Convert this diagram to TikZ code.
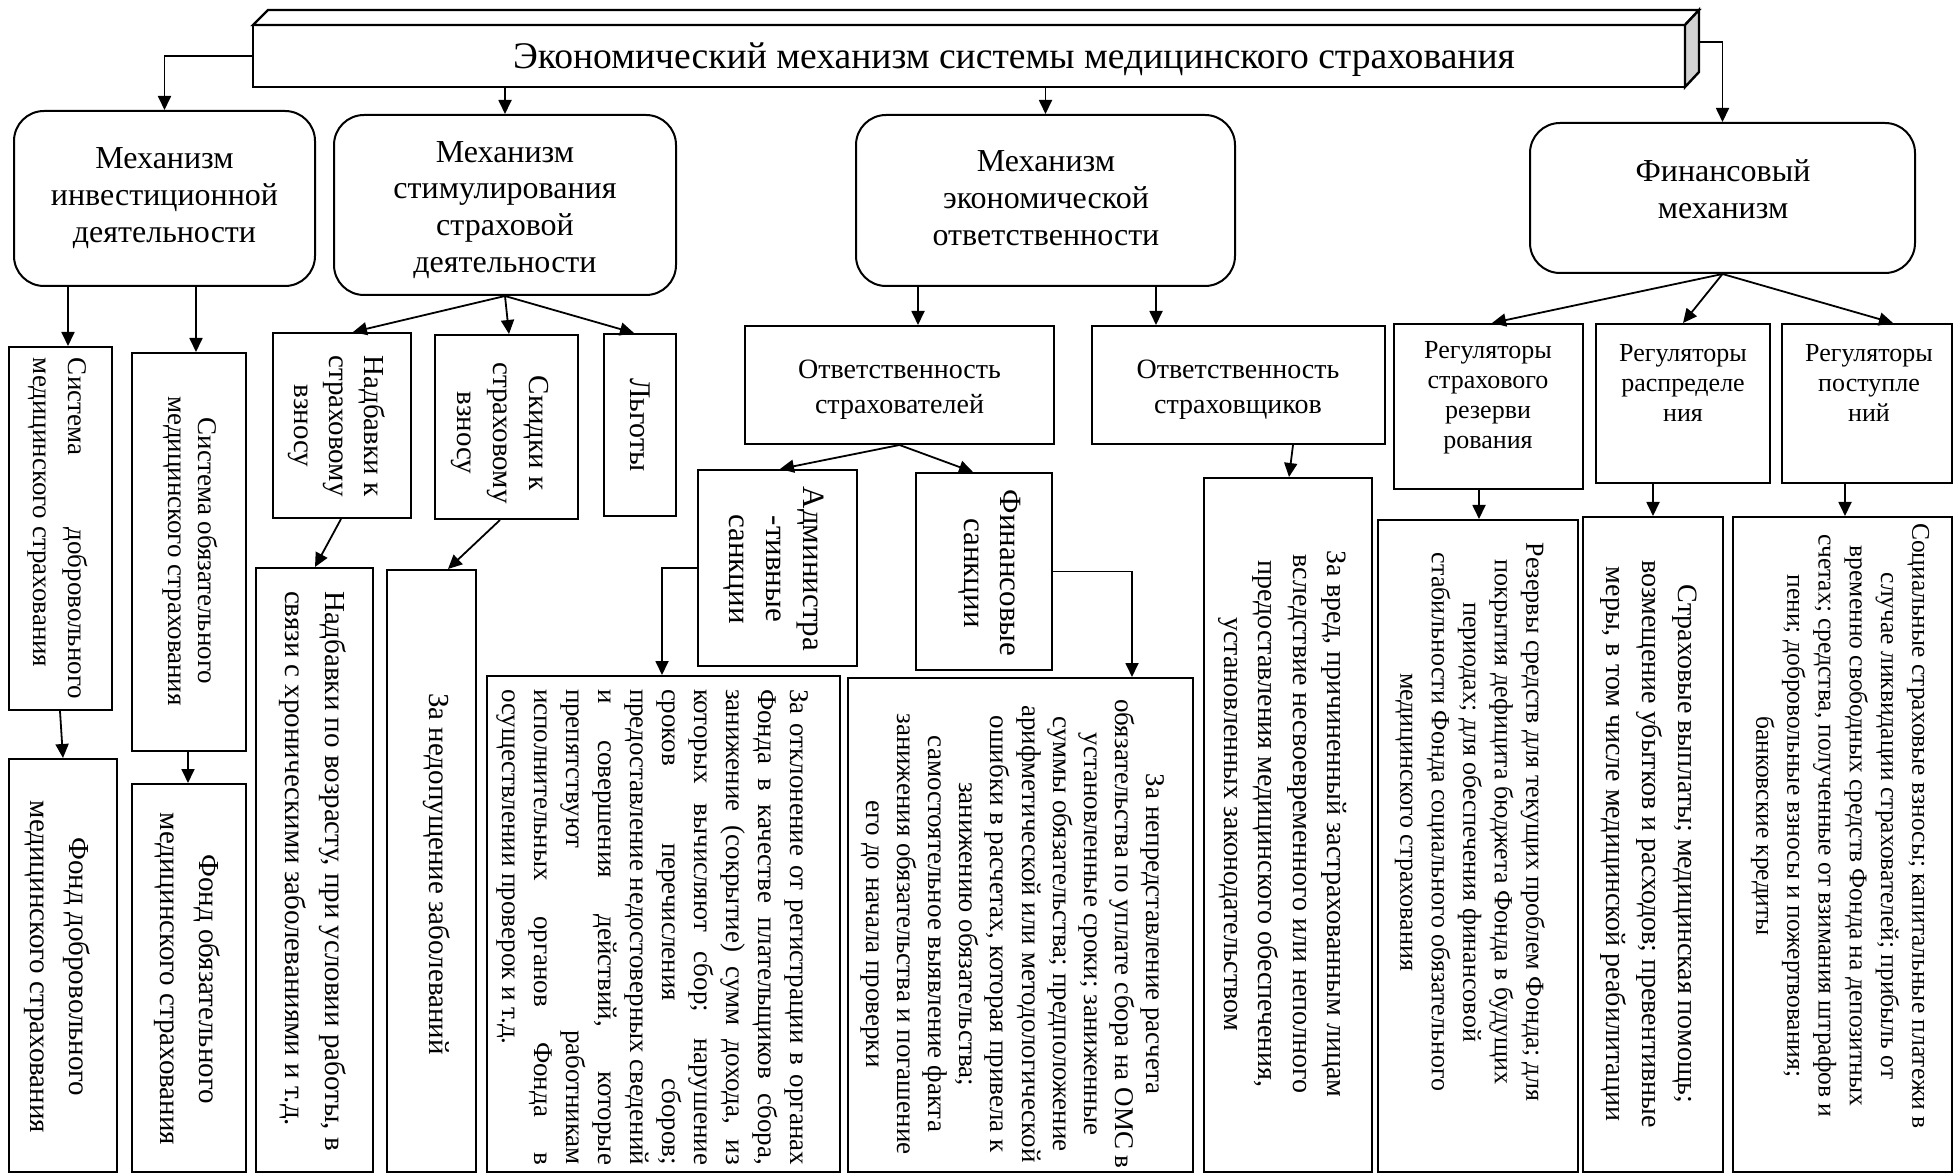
\documentclass[tikz,border=0pt]{standalone}
\usepackage{fontspec}
\setmainfont{Liberation Serif}
\usetikzlibrary{arrows.meta,fit}
\newcommand\fz[2]{\fontsize{#1pt}{#2pt}\selectfont}
\newcommand\jl[1]{\makebox[238pt][s]{#1}}
\begin{document}
\begin{tikzpicture}[x=0.5pt,y=-0.5pt,
  box/.style={draw, line width=1pt, inner sep=0pt},
  rbox/.style={draw, line width=1pt, inner sep=0pt, rounded corners=15pt},
  con/.style={line width=0.9pt, -{Triangle[length=7pt,width=6.5pt]}},
  rt/.style={rotate=-90, align=center, inner sep=0pt},
  ht/.style={align=center, inner sep=0pt}]
\useasboundingbox (0,0) rectangle (1955,1176);
\clip (0,0) rectangle (1955,1176);
% top 3D box
\draw[line width=1.2pt] (253,25) -- (268,10) -- (1699,10) -- (1685,25) -- cycle;
\draw[line width=1.2pt, fill=gray!35] (1685,25) -- (1699,10) -- (1699,72) -- (1685,87) -- cycle;
\node[box, line width=1.2pt, fit={(253,25) (1685,87)}] (top) {};
\node[ht, font=\fz{18.8}{22}] at (1014,60) {Экономический механизм системы медицинского страхования};
\coordinate (side) at (1699,42);
% level 1
\node[rbox, fit={(14,111) (315,286)}] (inv) {};
\node[rbox, fit={(334,115) (676,295)}] (stim) {};
\node[rbox, fit={(856,115) (1235,286)}] (econ) {};
\node[rbox, fit={(1530,123) (1915,273)}] (fin) {};
\node[ht, font=\fz{16}{18.4}] at (164.5,198) {Механизм\\инвестиционной\\деятельности};
\node[ht, font=\fz{16}{18.4}] at (505,210) {Механизм\\стимулирования\\страховой\\деятельности};
\node[ht, font=\fz{16}{18.4}] at (1046,198) {Механизм\\экономической\\ответственности};
\node[ht, font=\fz{16}{18.4}] at (1723,189.5) {Финансовый\\механизм};
% boxes
\node[box, fit={(9,347) (112,710)}] (sd) {};
\node[box, fit={(9,759) (117,1172)}] (fd) {};
\node[box, fit={(132,353) (246,751)}] (so) {};
\node[box, fit={(132,784) (246,1172)}] (fo) {};
\node[box, fit={(273,333) (411,518)}] (nk) {};
\node[box, fit={(256,568) (373,1172)}] (nv) {};
\node[box, fit={(435,335) (578,519)}] (sk) {};
\node[box, fit={(387,570) (476,1172)}] (zn) {};
\node[box, fit={(604,334) (676,516)}] (lg) {};
\node[box, fit={(745,326) (1054,444)}] (os) {};
\node[box, fit={(1092,326) (1385,444)}] (ow) {};
\node[box, fit={(698,470) (857,666)}] (adm) {};
\node[box, fit={(916,473) (1052,670)}] (fs) {};
\node[box, fit={(487,676) (840,1172)}] (zo) {};
\node[box, fit={(848,678) (1193,1172)}] (zp) {};
\node[box, fit={(1204,478) (1372,1172)}] (zv) {};
\node[box, fit={(1394,324) (1583,489)}] (r1) {};
\node[box, fit={(1596,324) (1770,483)}] (r2) {};
\node[box, fit={(1782,324) (1952,483)}] (r3) {};
\node[box, fit={(1378,520) (1578,1172)}] (rz) {};
\node[box, fit={(1583,517) (1723,1172)}] (sv) {};
\node[box, fit={(1733,517) (1952,1172)}] (sc) {};
% horizontal texts
\node[ht, font=\fz{14}{17.5}] at (899.5,389.5) {Ответственность\\страхователей};
\node[ht, font=\fz{14}{17.5}] at (1238,390) {Ответственность\\страховщиков};
\node[ht, font=\fz{13}{15}] at (1488,397.5) {Регуляторы\\страхового\\резерви\\рования};
\node[ht, font=\fz{13}{15}] at (1683,383) {Регуляторы\\распределе\\ния};
\node[ht, font=\fz{13}{15}] at (1869,383) {Регуляторы\\поступле\\ний};
% rotated texts
\node[rt, align=left, font=\fz{13.5}{17.5}] at (57.5,528.5) {\makebox[170.5pt][s]{Система добровольного}\\медицинского страхования};
\node[rt, font=\fz{14.5}{19.5}] at (57.5,967) {Фонд добровольного\\медицинского страхования};
\node[rt, font=\fz{13.5}{15}] at (190,551) {Система обязательного\\медицинского страхования};
\node[rt, font=\fz{14.5}{19.5}] at (187.5,979) {Фонд обязательного\\медицинского страхования};
\node[rt, font=\fz{14.5}{17.5}] at (337,426) {Надбавки к\\страховому\\взносу};
\node[rt, font=\fz{14.5}{18}] at (500,433) {Скидки к\\страховому\\взносу};
\node[rt, font=\fz{15}{18}] at (640,425) {Льготы};
\node[rt, align=left, font=\fz{14.5}{20}] at (313,871) {Надбавки по возрасту, при условии работы, в\\связи с хроническими заболеваниями и т.д.};
\node[rt, font=\fz{14.5}{18}] at (437,874) {За недопущение заболеваний};
\node[rt, font=\fz{15.5}{18.5}] at (774,569) {Администра\\-тивные\\санкции};
\node[rt, font=\fz{15.5}{18}] at (990,573) {Финансовые\\санкции};
\node[rt, align=left, font=\fz{13.5}{16}] at (653,927) {\jl{За отклонение от регистрации в органах}\\\jl{Фонда в качестве плательщиков сбора,}\\\jl{занижение (сокрытие) сумм дохода, из}\\\jl{которых вычисляют сбор; нарушение}\\\jl{сроков перечисления сборов;}\\\jl{предоставление недостоверных сведений}\\\jl{и совершения действий, которые}\\\jl{препятствуют работникам}\\\jl{исполнительных органов Фонда в}\\осуществлении проверок и т.д.};
\node[rt, font=\fz{13.5}{15.6}] at (1012.5,934) {За непредставление расчета\\обязательства по уплате сбора на ОМС в\\установленные сроки; заниженные\\суммы обязательства; предположение\\арифметической или методологической\\ошибки в расчетах, которая привела к\\занижению обязательства;\\самостоятельное выявление факта\\занижения обязательства и погашение\\его до начала проверки};
\node[rt, font=\fz{14}{17.2}] at (1282.5,824) {За вред, причиненный застрахованным лицам\\вследствие несвоевременного или неполного\\предоставления медицинского обеспечения,\\установленных законодательством};
\node[rt, font=\fz{13}{15.75}] at (1470,822) {Резервы средств для текущих проблем Фонда; для\\покрытия дефицита бюджета Фонда в будущих\\периодах; для обеспечения финансовой\\стабильности Фонда социального обязательного\\медицинского страхования};
\node[rt, font=\fz{14}{18}] at (1649,844) {Страховые выплаты; медицинская помощь;\\возмещение убытков и расходов; превентивные\\меры, в том числе медицинской реабилитации};
\node[rt, font=\fz{12.75}{15.6}] at (1840,826) {Социальные страховые взносы; капитальные платежи в\\случае ликвидации страхователей; прибыль от\\временно свободных средств Фонда на депозитных\\счетах; средства, полученные от взимания штрафов и\\пени; добровольные взносы и пожертвования;\\банковские кредиты};
% connectors
\draw[con] (top.west) -| (inv.north);
\draw[con] (top.south -| stim.north) -- (stim.north);
\draw[con] (top.south -| econ.north) -- (econ.north);
\draw[con] (side) -| (fin.north);
\draw[con] (68,0 |- inv.south) -- (68,0 |- sd.north);
\draw[con] (196,0 |- inv.south) -- (196,0 |- so.north);
\draw[con] (stim.south) -- (353,0 |- nk.north);
\draw[con] (stim.south) -- (509,0 |- sk.north);
\draw[con] (stim.south) -- (634,0 |- lg.north);
\draw[con] (60,0 |- sd.south) -- (63,0 |- fd.north);
\draw[con] (188,0 |- so.south) -- (188,0 |- fo.north);
\draw[con] (341,0 |- nk.south) -- (315,0 |- nv.north);
\draw[con] (500,0 |- sk.south) -- (448,0 |- zn.north);
\draw[con] (918,0 |- econ.south) -- (918,0 |- os.north);
\draw[con] (1156,0 |- econ.south) -- (1156,0 |- ow.north);
\draw[con] (os.south) -- (780,0 |- adm.north);
\draw[con] (os.south) -- (973,0 |- fs.north);
\draw[con] (adm.west) -| (662,0 |- zo.north);
\draw[con] (fs.east) -| (1132,0 |- zp.north);
\draw[con] (1293,0 |- ow.south) -- (1289,0 |- zv.north);
\draw[con] (fin.south) -- (1492,0 |- r1.north);
\draw[con] (fin.south) -- (1683,0 |- r2.north);
\draw[con] (fin.south) -- (1893,0 |- r3.north);
\draw[con] (1479,0 |- r1.south) -- (1479,0 |- rz.north);
\draw[con] (1653,0 |- r2.south) -- (1653,0 |- sv.north);
\draw[con] (1845,0 |- r3.south) -- (1845,0 |- sc.north);
\end{tikzpicture}
\end{document}
